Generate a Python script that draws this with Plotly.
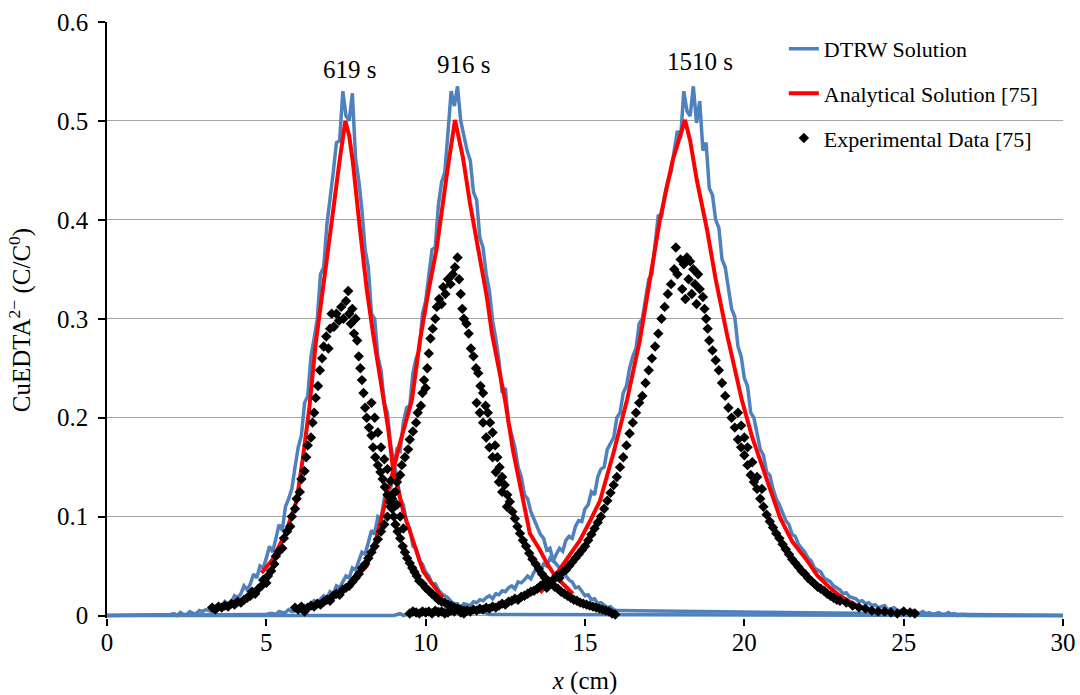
import plotly.graph_objects as go

# ---------------- data ----------------
# DTRW (noisy) solutions: sampled every 0.1 cm starting at the given x0
DTRW_619_X0 = 2.0
DTRW_619_Y = [
    0.001, 0.002, 0.000, 0.003, 0.001, 0.001, 0.004, 0.002, 0.002, 0.005,
    0.004, 0.006, 0.005, 0.004, 0.009, 0.008, 0.010, 0.014, 0.011, 0.013,
    0.020, 0.018, 0.022, 0.030, 0.026, 0.032, 0.042, 0.038, 0.050, 0.048,
    0.058, 0.070, 0.064, 0.078, 0.092, 0.086, 0.110, 0.118, 0.128, 0.150,
    0.170, 0.182, 0.215, 0.222, 0.262, 0.280, 0.300, 0.345, 0.352, 0.395,
    0.420, 0.448, 0.478, 0.480, 0.530, 0.505, 0.500, 0.528, 0.462, 0.440,
    0.410, 0.370, 0.352, 0.305, 0.300, 0.262, 0.248, 0.215, 0.205, 0.172,
    0.155, 0.140, 0.118, 0.112, 0.094, 0.088, 0.070, 0.068, 0.055, 0.052,
    0.044, 0.040, 0.032, 0.032, 0.026, 0.022, 0.020, 0.018, 0.014, 0.012,
    0.012, 0.008, 0.009, 0.007, 0.005, 0.006, 0.004, 0.003, 0.004, 0.002, 0.001,
]
DTRW_916_X0 = 5.0
DTRW_916_Y = [
    0.001, 0.002, 0.002, 0.001, 0.004, 0.003, 0.003, 0.006, 0.004, 0.005,
    0.008, 0.006, 0.010, 0.009, 0.012, 0.015, 0.013, 0.017, 0.020, 0.018,
    0.024, 0.022, 0.030, 0.028, 0.034, 0.040, 0.038, 0.048, 0.046, 0.054,
    0.064, 0.062, 0.074, 0.086, 0.082, 0.100, 0.098, 0.118, 0.132, 0.128,
    0.150, 0.168, 0.166, 0.195, 0.210, 0.212, 0.245, 0.260, 0.268, 0.305,
    0.318, 0.348, 0.370, 0.372, 0.415, 0.438, 0.448, 0.488, 0.530, 0.515,
    0.535, 0.500, 0.485, 0.470, 0.460, 0.428, 0.420, 0.382, 0.372, 0.345,
    0.328, 0.298, 0.280, 0.258, 0.225, 0.230, 0.195, 0.184, 0.170, 0.150,
    0.140, 0.122, 0.118, 0.105, 0.098, 0.090, 0.082, 0.078, 0.066, 0.068,
    0.056, 0.052, 0.048, 0.043, 0.040, 0.036, 0.034, 0.028, 0.029, 0.024,
    0.020, 0.021, 0.016, 0.017, 0.012, 0.013, 0.010, 0.008, 0.009, 0.006, 0.005,
]
DTRW_1510_X0 = 9.0
DTRW_1510_Y = [
    0.000, 0.001, 0.002, 0.000, 0.001, 0.003, 0.001, 0.002, 0.004, 0.002,
    0.003, 0.005, 0.003, 0.004, 0.007, 0.005, 0.006, 0.008, 0.006, 0.009,
    0.010, 0.008, 0.012, 0.011, 0.010, 0.014, 0.013, 0.016, 0.015, 0.018,
    0.020, 0.017, 0.022, 0.021, 0.025, 0.024, 0.028, 0.030, 0.027, 0.034,
    0.033, 0.036, 0.040, 0.037, 0.044, 0.046, 0.045, 0.052, 0.050, 0.058,
    0.055, 0.062, 0.068, 0.065, 0.076, 0.080, 0.078, 0.090, 0.096, 0.095,
    0.108, 0.112, 0.125, 0.122, 0.140, 0.148, 0.150, 0.168, 0.175, 0.180,
    0.200, 0.205, 0.225, 0.232, 0.250, 0.262, 0.270, 0.295, 0.300, 0.318,
    0.340, 0.345, 0.372, 0.405, 0.402, 0.425, 0.440, 0.448, 0.470, 0.490,
    0.482, 0.530, 0.510, 0.505, 0.535, 0.498, 0.520, 0.470, 0.478, 0.432,
    0.425, 0.400, 0.392, 0.360, 0.352, 0.330, 0.310, 0.302, 0.272, 0.262,
    0.240, 0.232, 0.205, 0.200, 0.185, 0.168, 0.162, 0.145, 0.142, 0.128,
    0.118, 0.112, 0.104, 0.096, 0.092, 0.082, 0.080, 0.072, 0.068, 0.064,
    0.058, 0.055, 0.048, 0.046, 0.044, 0.038, 0.036, 0.034, 0.030, 0.028,
    0.026, 0.022, 0.023, 0.019, 0.018, 0.017, 0.014, 0.015, 0.012, 0.013,
    0.010, 0.011, 0.008, 0.009, 0.010, 0.006, 0.007, 0.008, 0.005, 0.005,
    0.006, 0.004, 0.003, 0.005, 0.003, 0.002, 0.004, 0.002, 0.003, 0.001,
    0.002, 0.003, 0.001, 0.001, 0.003, 0.001, 0.002, 0.000, 0.001, 0.001, 0.000,
]
DTRW_STEP = 0.1
X_MIN, X_MAX = 0.0, 30.0

# Analytical solutions [75] (x, C/C0)
ANALYTICAL_619 = [
    (4.85, 0.043), (5.2, 0.057), (5.6, 0.083), (5.95, 0.116), (6.15, 0.16),
    (6.35, 0.21), (6.55, 0.275), (6.8, 0.34), (7.1, 0.41), (7.3, 0.46),
    (7.48, 0.50), (7.6, 0.485), (7.72, 0.457), (7.94, 0.39), (8.15, 0.33),
    (8.35, 0.285), (8.55, 0.245), (8.7, 0.218), (8.82, 0.19), (8.97, 0.15),
    (9.3, 0.105), (9.6, 0.076), (9.92, 0.045), (10.13, 0.035), (10.35, 0.026),
    (10.54, 0.018),
]
ANALYTICAL_916 = [
    (7.78, 0.038), (8.15, 0.05), (8.47, 0.08), (8.6, 0.097), (8.79, 0.12),
    (8.97, 0.147), (9.19, 0.174), (9.57, 0.218), (9.82, 0.278), (10.1, 0.33),
    (10.35, 0.372), (10.67, 0.447), (10.92, 0.501), (11.17, 0.463), (11.39, 0.417),
    (11.64, 0.372), (11.92, 0.322), (12.08, 0.285), (12.3, 0.25), (12.49, 0.218),
    (12.74, 0.167), (13.05, 0.116), (13.27, 0.083), (13.59, 0.066), (13.8, 0.053),
    (14.06, 0.04), (14.35, 0.03), (14.62, 0.022),
]
ANALYTICAL_1510 = [
    (13.59, 0.023), (14.06, 0.04), (14.45, 0.058), (14.84, 0.076), (15.15, 0.095),
    (15.47, 0.116), (15.9, 0.165), (16.32, 0.218), (16.72, 0.278), (17.05, 0.345),
    (17.35, 0.40), (17.75, 0.46), (18.14, 0.501), (18.3, 0.48), (18.51, 0.44),
    (18.83, 0.39), (19.1, 0.34), (19.45, 0.285), (19.7, 0.25), (19.92, 0.218),
    (20.25, 0.18), (20.58, 0.15), (21.12, 0.099), (21.5, 0.075), (21.96, 0.056),
    (22.3, 0.04), (22.69, 0.028), (23.0, 0.02), (23.41, 0.012), (23.8, 0.007),
    (24.25, 0.002),
]

# Experimental data [75] (x, C/C0)
EXPERIMENTAL_619 = [
    (3.30, 0.008), (3.40, 0.006), (3.50, 0.009), (3.60, 0.008), (3.70, 0.010),
    (3.80, 0.009), (3.90, 0.012), (4.00, 0.011), (4.10, 0.014), (4.20, 0.013),
    (4.30, 0.016), (4.40, 0.018), (4.50, 0.020), (4.55, 0.024), (4.65, 0.022),
    (4.75, 0.027), (4.85, 0.030), (4.90, 0.036), (5.00, 0.033), (5.05, 0.040),
    (5.15, 0.045), (5.25, 0.052), (5.30, 0.060), (5.40, 0.065), (5.50, 0.068),
    (5.55, 0.078), (5.65, 0.085), (5.75, 0.090), (5.80, 0.100), (5.90, 0.108),
    (5.95, 0.118), (6.05, 0.125), (6.10, 0.138), (6.20, 0.146), (6.25, 0.160),
    (6.30, 0.172), (6.40, 0.180), (6.45, 0.195), (6.50, 0.205), (6.55, 0.220),
    (6.62, 0.232), (6.68, 0.248), (6.75, 0.260), (6.80, 0.272), (6.88, 0.282),
    (6.95, 0.270), (7.00, 0.290), (7.05, 0.305), (7.12, 0.292), (7.20, 0.305),
    (7.28, 0.298), (7.35, 0.312), (7.42, 0.300), (7.50, 0.318), (7.57, 0.328),
    (7.60, 0.305), (7.65, 0.295), (7.70, 0.310), (7.75, 0.285), (7.80, 0.300),
    (7.85, 0.278), (7.90, 0.262), (7.95, 0.250), (8.00, 0.238), (8.05, 0.225),
    (8.10, 0.210), (8.15, 0.200), (8.22, 0.190), (8.30, 0.182), (8.35, 0.170),
    (8.42, 0.160), (8.50, 0.152), (8.58, 0.145), (8.65, 0.138), (8.72, 0.130),
    (8.80, 0.122), (8.88, 0.115), (8.95, 0.108), (9.00, 0.100), (9.05, 0.092),
    (9.12, 0.085), (9.20, 0.078), (9.28, 0.070), (9.35, 0.064), (9.42, 0.058),
    (9.50, 0.053), (9.58, 0.048), (9.65, 0.044), (9.72, 0.040), (9.80, 0.035),
    (9.90, 0.032), (10.00, 0.028), (10.10, 0.025), (10.20, 0.022), (10.30, 0.019),
    (10.40, 0.016), (10.50, 0.014), (10.60, 0.013), (10.70, 0.011), (10.80, 0.010),
    (10.90, 0.008), (11.00, 0.007), (11.10, 0.006), (11.20, 0.005), (11.30, 0.005),
    (8.30, 0.215), (8.40, 0.200), (8.50, 0.185), (8.60, 0.170), (8.70, 0.158),
    (8.80, 0.148), (8.90, 0.136), (9.00, 0.124), (9.10, 0.112), (9.20, 0.100),
    (9.30, 0.088),
]
EXPERIMENTAL_916 = [
    (5.90, 0.008), (6.00, 0.006), (6.10, 0.009), (6.20, 0.004), (6.30, 0.008),
    (6.40, 0.010), (6.50, 0.009), (6.60, 0.012), (6.70, 0.011), (6.80, 0.014),
    (6.90, 0.016), (7.00, 0.015), (7.10, 0.020), (7.20, 0.022), (7.30, 0.021),
    (7.40, 0.026), (7.50, 0.028), (7.60, 0.030), (7.70, 0.034), (7.80, 0.038),
    (7.90, 0.042), (8.00, 0.048), (8.10, 0.052), (8.20, 0.058), (8.30, 0.064),
    (8.40, 0.070), (8.50, 0.077), (8.60, 0.085), (8.70, 0.092), (8.80, 0.100),
    (8.90, 0.110), (8.95, 0.118), (9.05, 0.125), (9.10, 0.135), (9.20, 0.142),
    (9.25, 0.152), (9.35, 0.160), (9.45, 0.168), (9.50, 0.178), (9.60, 0.186),
    (9.70, 0.195), (9.75, 0.205), (9.85, 0.212), (9.90, 0.225), (9.95, 0.238),
    (10.00, 0.230), (10.05, 0.250), (10.10, 0.265), (10.15, 0.280), (10.22, 0.290),
    (10.30, 0.300), (10.35, 0.312), (10.42, 0.320), (10.50, 0.315), (10.55, 0.332),
    (10.62, 0.325), (10.70, 0.340), (10.78, 0.335), (10.85, 0.345), (10.92, 0.352),
    (11.00, 0.362), (11.05, 0.340), (11.10, 0.325), (11.15, 0.310), (11.20, 0.300),
    (11.28, 0.295), (11.35, 0.285), (11.42, 0.270), (11.50, 0.262), (11.58, 0.250),
    (11.65, 0.245), (11.72, 0.232), (11.80, 0.225), (11.88, 0.212), (11.95, 0.205),
    (12.02, 0.195), (12.10, 0.185), (12.18, 0.172), (12.25, 0.160), (12.32, 0.150),
    (12.40, 0.140), (12.48, 0.132), (12.56, 0.122), (12.64, 0.115), (12.72, 0.105),
    (12.80, 0.098), (12.88, 0.090), (12.96, 0.083), (13.05, 0.076), (13.15, 0.070),
    (13.25, 0.063), (13.35, 0.057), (13.45, 0.052), (13.55, 0.047), (13.65, 0.042),
    (13.75, 0.038), (13.85, 0.035), (13.95, 0.032), (14.05, 0.029), (14.15, 0.027),
    (14.25, 0.024), (14.35, 0.022), (14.45, 0.020), (14.55, 0.018), (14.65, 0.016),
    (14.75, 0.015), (14.85, 0.013), (14.95, 0.012), (15.05, 0.011), (15.15, 0.010),
    (15.25, 0.009), (15.35, 0.008), (15.45, 0.007), (15.55, 0.006), (15.65, 0.005),
    (15.75, 0.004), (15.85, 0.002), (15.95, 0.001),
    (11.60, 0.215), (11.70, 0.205), (11.80, 0.195), (11.90, 0.180), (12.00, 0.170),
    (12.10, 0.160), (12.20, 0.145), (12.30, 0.135), (12.40, 0.125), (12.55, 0.110),
]
EXPERIMENTAL_1510 = [
    (9.50, 0.002), (9.60, 0.004), (9.70, 0.003), (9.80, 0.002), (9.90, 0.004),
    (10.00, 0.003), (10.10, 0.004), (10.20, 0.002), (10.30, 0.005), (10.40, 0.003),
    (10.50, 0.004), (10.60, 0.002), (10.70, 0.003), (10.80, 0.005), (10.90, 0.004),
    (11.00, 0.006), (11.10, 0.003), (11.20, 0.002), (11.30, 0.005), (11.40, 0.004),
    (11.50, 0.006), (11.60, 0.005), (11.70, 0.007), (11.80, 0.006), (11.90, 0.008),
    (12.00, 0.007), (12.10, 0.009), (12.20, 0.008), (12.30, 0.010), (12.40, 0.012),
    (12.50, 0.011), (12.60, 0.014), (12.70, 0.015), (12.80, 0.017), (12.90, 0.016),
    (13.00, 0.019), (13.10, 0.020), (13.20, 0.022), (13.30, 0.024), (13.40, 0.025),
    (13.50, 0.027), (13.60, 0.030), (13.70, 0.032), (13.80, 0.028), (13.90, 0.034),
    (14.00, 0.036), (14.10, 0.040), (14.20, 0.038), (14.30, 0.044), (14.40, 0.046),
    (14.50, 0.050), (14.60, 0.054), (14.70, 0.058), (14.80, 0.062), (14.90, 0.066),
    (15.00, 0.070), (15.10, 0.076), (15.20, 0.082), (15.30, 0.088), (15.40, 0.094),
    (15.50, 0.100), (15.60, 0.108), (15.70, 0.116), (15.80, 0.124), (15.90, 0.132),
    (16.00, 0.140), (16.10, 0.150), (16.20, 0.160), (16.30, 0.172), (16.40, 0.184),
    (16.50, 0.195), (16.60, 0.205), (16.70, 0.215), (16.80, 0.222), (16.90, 0.235),
    (17.00, 0.248), (17.10, 0.260), (17.20, 0.272), (17.30, 0.285), (17.40, 0.300),
    (17.50, 0.312), (17.60, 0.325), (17.70, 0.335), (17.80, 0.350), (17.85, 0.372),
    (17.90, 0.345), (18.00, 0.360), (18.05, 0.330), (18.10, 0.355), (18.15, 0.320),
    (18.20, 0.362), (18.25, 0.340), (18.30, 0.358), (18.35, 0.325), (18.40, 0.350),
    (18.45, 0.335), (18.50, 0.315), (18.55, 0.345), (18.60, 0.330), (18.70, 0.322),
    (18.75, 0.310), (18.80, 0.300), (18.85, 0.290), (18.90, 0.278), (19.00, 0.268),
    (19.10, 0.258), (19.20, 0.248), (19.30, 0.235), (19.40, 0.222), (19.50, 0.210),
    (19.60, 0.200), (19.70, 0.190), (19.80, 0.178), (19.90, 0.170), (20.00, 0.162),
    (20.10, 0.152), (20.20, 0.142), (20.30, 0.135), (20.40, 0.128), (20.50, 0.118),
    (20.60, 0.110), (20.70, 0.102), (20.80, 0.095), (20.90, 0.089), (21.00, 0.083),
    (21.10, 0.078), (21.20, 0.072), (21.30, 0.067), (21.40, 0.062), (21.50, 0.057),
    (21.60, 0.053), (21.70, 0.049), (21.80, 0.045), (21.90, 0.042), (22.00, 0.038),
    (22.10, 0.035), (22.20, 0.032), (22.30, 0.029), (22.40, 0.027), (22.50, 0.025),
    (22.60, 0.022), (22.70, 0.020), (22.80, 0.018), (22.90, 0.016), (23.00, 0.015),
    (23.20, 0.013), (23.40, 0.010), (23.60, 0.008), (23.80, 0.007), (24.00, 0.005),
    (24.20, 0.004), (24.40, 0.004), (24.60, 0.003), (24.80, 0.002), (25.00, 0.004),
    (25.20, 0.003), (25.35, 0.002),
    (19.80, 0.205), (19.90, 0.192), (20.00, 0.180), (20.10, 0.170), (20.25, 0.155),
    (20.40, 0.140), (20.55, 0.128),
]

# Time labels
TIME_LABELS = ["619 s", "916 s", "1510 s"]
TIME_LABEL_X = [7.6, 11.2, 18.6]
TIME_LABEL_Y = [0.552, 0.557, 0.560]

X_TICKS = [0, 5, 10, 15, 20, 25, 30]
Y_TICKS = [0, 0.1, 0.2, 0.3, 0.4, 0.5, 0.6]
Y_TICK_TEXT = ["0", "0.1", "0.2", "0.3", "0.4", "0.5", "0.6"]

# ---------------- build ----------------
BLUE = "#4f81bd"
RED = "#ff0000"
FONT = "Liberation Serif, DejaVu Serif, serif"


def dtrw_xy(x0, ys):
    xs = [X_MIN] + [round(x0 + DTRW_STEP * i, 2) for i in range(len(ys))] + [X_MAX]
    return xs, [0.0] + list(ys) + [0.0]


def join(series_list):
    xs, ys = [], []
    for sx, sy in series_list:
        if xs:
            xs.append(None)
            ys.append(None)
        xs.extend(sx)
        ys.extend(sy)
    return xs, ys


def unzip(pairs):
    return [p[0] for p in pairs], [p[1] for p in pairs]


blue_x, blue_y = join([dtrw_xy(DTRW_619_X0, DTRW_619_Y),
                       dtrw_xy(DTRW_916_X0, DTRW_916_Y),
                       dtrw_xy(DTRW_1510_X0, DTRW_1510_Y)])
red_x, red_y = join([unzip(ANALYTICAL_619), unzip(ANALYTICAL_916), unzip(ANALYTICAL_1510)])
exp_x, exp_y = unzip(EXPERIMENTAL_619 + EXPERIMENTAL_916 + EXPERIMENTAL_1510)

fig = go.Figure()
fig.add_trace(go.Scatter(x=blue_x, y=blue_y, mode="lines", name="DTRW Solution",
                         line=dict(color=BLUE, width=3.5), legendgroup="a"))
fig.add_trace(go.Scatter(x=red_x, y=red_y, mode="lines", name="Analytical Solution [75]",
                         line=dict(color=RED, width=4), legendgroup="b"))
fig.add_trace(go.Scatter(x=exp_x, y=exp_y, mode="markers", name="Experimental Data [75]",
                         marker=dict(symbol="diamond", color="black", size=8),
                         cliponaxis=False, legendgroup="c"))

for t, x, y in zip(TIME_LABELS, TIME_LABEL_X, TIME_LABEL_Y):
    fig.add_annotation(x=x, y=y, xref="x", yref="y", text=t, showarrow=False,
                       font=dict(family=FONT, size=25, color="black"))

fig.update_layout(
    width=1080, height=695,
    margin=dict(l=107, r=17, t=22, b=77),
    paper_bgcolor="white", plot_bgcolor="white",
    font=dict(family=FONT, size=25, color="black"),
    showlegend=True,
    legend=dict(x=0.708, y=0.99, xanchor="left", yanchor="top",
                bgcolor="rgba(0,0,0,0)", font=dict(family=FONT, size=22),
                tracegroupgap=13, traceorder="grouped", itemwidth=30),
)
fig.update_xaxes(range=[X_MIN, X_MAX], tickvals=X_TICKS, ticks="outside", ticklen=7,
                 tickcolor="black", tickwidth=1.5, showline=False, showgrid=False,
                 zeroline=False, automargin=False, ticklabelstandoff=-5,
                 title=dict(text="<i>x</i> (cm)", standoff=19, font=dict(family=FONT, size=25)),
                 tickfont=dict(family=FONT, size=25))
fig.update_yaxes(range=[-0.0025, 0.6], tickvals=Y_TICKS, ticktext=Y_TICK_TEXT,
                 ticks="outside", ticklen=7, tickcolor="black", tickwidth=1.5,
                 showline=True, linecolor="black", linewidth=1.5,
                 showgrid=True, gridcolor="#a6a6a6", gridwidth=1, zeroline=False,
                 automargin=False, ticklabelstandoff=5,
                 title=dict(text="CuEDTA<sup>2−</sup> (C/C<sup>0</sup>)", standoff=19,
                            font=dict(family=FONT, size=25)),
                 tickfont=dict(family=FONT, size=25))

# remove the default page margin so the 1080x695 figure fills the window exactly
fig.write_html("out.html", config={"displayModeBar": False},
               post_script="document.body.style.margin='0';document.body.style.overflow='hidden';")
